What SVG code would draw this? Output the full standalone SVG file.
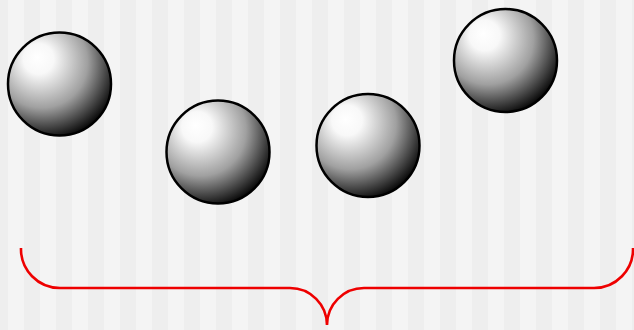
<svg xmlns="http://www.w3.org/2000/svg" width="634" height="330" viewBox="0 0 634 330">
  <defs>
    <pattern id="stripes" x="8" y="0" width="32" height="330" patternUnits="userSpaceOnUse">
      <rect x="0" y="0" width="16" height="330" fill="#f4f4f4"/>
      <rect x="16" y="0" width="16" height="330" fill="#eeeeee"/>
    </pattern>
    <radialGradient id="ball" cx="0.36" cy="0.32" r="0.74" fx="0.28" fy="0.24">
      <stop offset="0" stop-color="#ffffff"/>
      <stop offset="0.2" stop-color="#f8f8f8"/>
      <stop offset="0.6" stop-color="#a0a0a0"/>
      <stop offset="0.88" stop-color="#303030"/>
      <stop offset="1" stop-color="#000000"/>
    </radialGradient>
  </defs>
  <style>
    .sphere { fill: url(#ball); stroke: #000; stroke-width: 2.5; }
    .brace { fill: none; stroke: #ee0000; stroke-width: 2.6; }
  </style>
  <rect x="0" y="0" width="634" height="330" fill="url(#stripes)"/>
  <g id="sphere1"><circle class="sphere" cx="59.5" cy="84" r="51.5"/></g>
  <g id="sphere2"><circle class="sphere" cx="218" cy="152" r="51.5"/></g>
  <g id="sphere3"><circle class="sphere" cx="368" cy="145.5" r="51.5"/></g>
  <g id="sphere4"><circle class="sphere" cx="505.5" cy="60.5" r="51.5"/></g>
  <g id="connectors">
    <path class="brace" d="M21,248 A39,39 0 0 0 60,288 H290 A37,37 0 0 1 327,325 A37,37 0 0 1 364,288 H594 A39,39 0 0 0 633,248"/>
  </g>
</svg>
